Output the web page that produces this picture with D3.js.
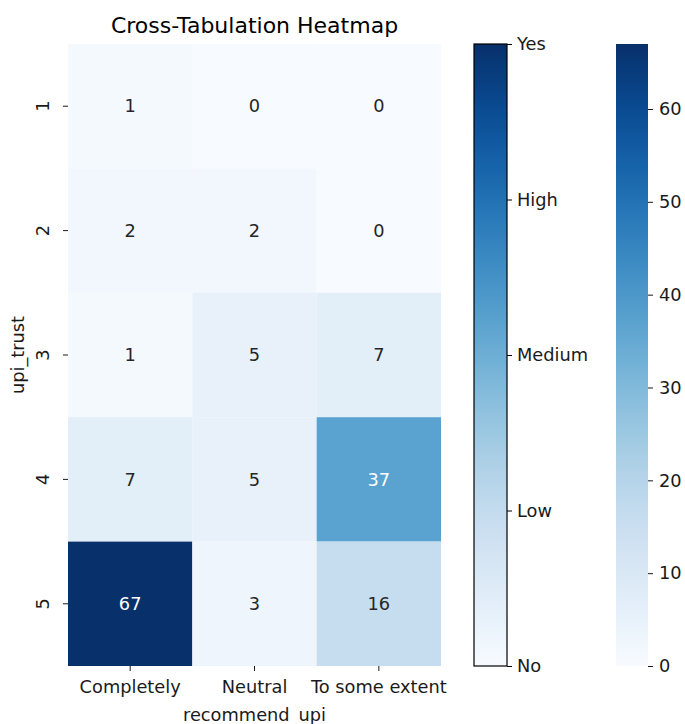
<!DOCTYPE html>
<html>
<head>
<meta charset="utf-8">
<script src="https://cdn.jsdelivr.net/npm/d3@7"></script>
<style>
  body { margin: 0; background: #fff; }
  svg { display: block; font-family: "DejaVu Sans", sans-serif; }
</style>
</head>
<body>
<svg id="chart" width="685" height="724"></svg>
<script>
// Cross-tabulation of UPI trust level against recommendation
const rowLabels = ["1", "2", "3", "4", "5"];
const colLabels = ["Completely", "Neutral", "To some extent"];
const completely = [1, 2, 1, 7, 67];
const neutral = [0, 2, 5, 5, 3];
const someExtent = [0, 0, 7, 37, 16];
const levelLabels = ["No", "Low", "Medium", "High", "Yes"];
const countTicks = [0, 10, 20, 30, 40, 50, 60];

const columns = [completely, neutral, someExtent];
const cells = [];
rowLabels.forEach((r, i) => {
  colLabels.forEach((c, j) => {
    cells.push({ row: r, col: c, value: columns[j][i] });
  });
});

const svg = d3.select("#chart");
const ink = "#1a1a1a";
const fs = 17.8;

const plot = { left: 68, right: 441, top: 44, bottom: 666 };
const x = d3.scaleBand().domain(colLabels).range([plot.left, plot.right]);
const y = d3.scaleBand().domain(rowLabels).range([plot.top, plot.bottom]);
const vmax = d3.max(cells, d => d.value);
const color = d3.scaleSequential(d3.interpolateBlues).domain([0, vmax]);

// heatmap cells
svg.append("g").selectAll("rect").data(cells).join("rect")
  .attr("x", d => x(d.col))
  .attr("y", d => y(d.row))
  .attr("width", x.bandwidth())
  .attr("height", y.bandwidth())
  .attr("fill", d => color(d.value));

// annotations: white text on dark cells
function lum(c) {
  const rgb = d3.rgb(c);
  const f = v => { v /= 255; return v <= 0.03928 ? v / 12.92 : Math.pow((v + 0.055) / 1.055, 2.4); };
  return 0.2126 * f(rgb.r) + 0.7152 * f(rgb.g) + 0.0722 * f(rgb.b);
}
svg.append("g").selectAll("text").data(cells).join("text")
  .attr("x", d => x(d.col) + x.bandwidth() / 2)
  .attr("y", d => y(d.row) + y.bandwidth() / 2)
  .attr("dy", "0.35em")
  .attr("text-anchor", "middle")
  .attr("font-size", fs)
  .attr("fill", d => lum(color(d.value)) > 0.408 ? "#262626" : "#ffffff")
  .text(d => d.value);

// x axis
const xAxis = svg.append("g")
  .attr("transform", `translate(0,${plot.bottom})`)
  .call(d3.axisBottom(x).tickSize(5).tickPadding(9));
xAxis.select(".domain").remove();
xAxis.selectAll("line").attr("stroke", ink).attr("stroke-width", 1);
xAxis.selectAll("text").attr("font-size", fs).attr("fill", ink)
  .attr("font-family", "DejaVu Sans");

// y axis with rotated labels
const yAxis = svg.append("g")
  .attr("transform", `translate(${plot.left},0)`)
  .call(d3.axisLeft(y).tickSize(5).tickPadding(6));
yAxis.select(".domain").remove();
yAxis.selectAll("line").attr("stroke", ink).attr("stroke-width", 1);
yAxis.selectAll("text")
  .attr("font-size", fs).attr("fill", ink).attr("font-family", "DejaVu Sans")
  .attr("x", null).attr("dy", null)
  .attr("text-anchor", "middle")
  .attr("transform", "translate(-26,0) rotate(-90)")
  .attr("dominant-baseline", "central");

// titles
svg.append("text")
  .attr("x", (plot.left + plot.right) / 2).attr("y", 33)
  .attr("text-anchor", "middle").attr("font-size", 22).attr("fill", "#000")
  .text("Cross-Tabulation Heatmap");
svg.append("text")
  .attr("x", (plot.left + plot.right) / 2).attr("y", 721)
  .attr("text-anchor", "middle").attr("font-size", fs).attr("fill", ink)
  .text("recommend_upi");
svg.append("text")
  .attr("transform", `translate(24,${(plot.top + plot.bottom) / 2}) rotate(-90)`)
  .attr("text-anchor", "middle").attr("font-size", fs).attr("fill", ink)
  .text("upi_trust");

// gradient shared by both colour bars
const defs = svg.append("defs");
const grad = defs.append("linearGradient").attr("id", "blues")
  .attr("x1", 0).attr("y1", 1).attr("x2", 0).attr("y2", 0);
d3.range(0, 1.0001, 0.05).forEach(t => {
  grad.append("stop").attr("offset", t).attr("stop-color", d3.interpolateBlues(t));
});

// categorical level bar
const bar1 = { left: 474, width: 33 };
const levelScale = d3.scalePoint().domain(levelLabels).range([plot.bottom, plot.top]);
svg.append("rect")
  .attr("x", bar1.left).attr("y", plot.top)
  .attr("width", bar1.width).attr("height", plot.bottom - plot.top)
  .attr("fill", "url(#blues)")
  .attr("stroke", "#000").attr("stroke-width", 1.2);
const lvAxis = svg.append("g")
  .attr("transform", `translate(${bar1.left + bar1.width},0)`)
  .call(d3.axisRight(levelScale).tickSize(5).tickPadding(5));
lvAxis.select(".domain").remove();
lvAxis.selectAll("line").attr("stroke", "#000").attr("stroke-width", 1);
lvAxis.selectAll("text").attr("font-size", fs).attr("fill", ink)
  .attr("font-family", "DejaVu Sans");

// count colour bar
const bar2 = { left: 616, width: 32 };
const countScale = d3.scaleLinear().domain([0, vmax]).range([plot.bottom, plot.top]);
svg.append("rect")
  .attr("x", bar2.left).attr("y", plot.top)
  .attr("width", bar2.width).attr("height", plot.bottom - plot.top)
  .attr("fill", "url(#blues)");
const ctAxis = svg.append("g")
  .attr("transform", `translate(${bar2.left + bar2.width},0)`)
  .call(d3.axisRight(countScale).tickValues(countTicks).tickSize(5).tickPadding(6));
ctAxis.select(".domain").remove();
ctAxis.selectAll("line").attr("stroke", ink).attr("stroke-width", 1);
ctAxis.selectAll("text").attr("font-size", fs).attr("fill", ink)
  .attr("font-family", "DejaVu Sans");
</script>
</body>
</html>
